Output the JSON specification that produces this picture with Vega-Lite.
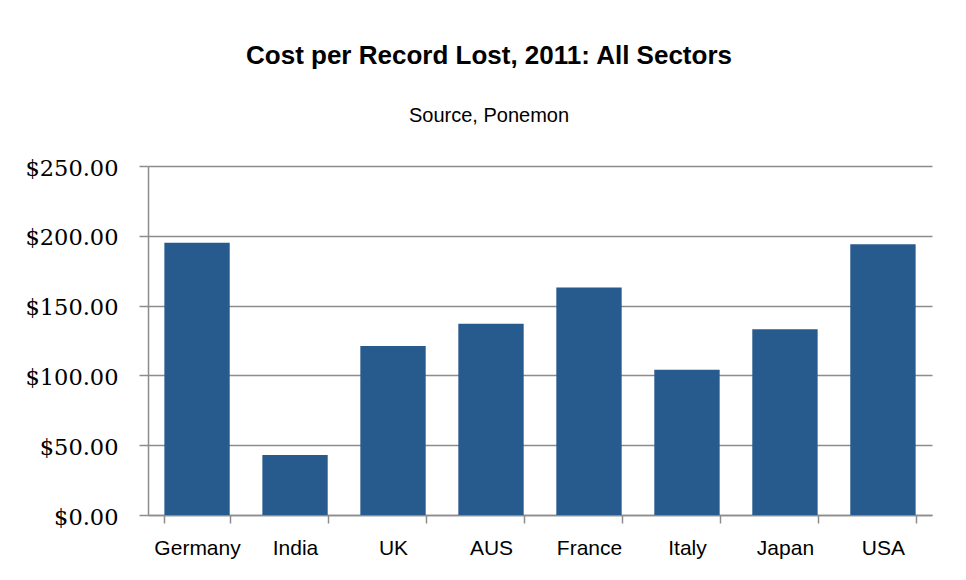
{
  "$schema": "https://vega.github.io/schema/vega-lite/v6.json",
  "autosize": {"type": "none"},
  "width": 784,
  "height": 349,
  "padding": {"left": 148, "top": 166, "right": 34, "bottom": 65},
  "background": "white",
  "title": {
    "text": "Cost per Record Lost, 2011: All Sectors",
    "subtitle": "Source, Ponemon",
    "anchor": "middle",
    "frame": "group",
    "dx": -51,
    "offset": 31,
    "font": "Liberation Sans",
    "fontSize": 26,
    "fontWeight": "bold",
    "color": "#000000",
    "subtitleFont": "Liberation Sans",
    "subtitleFontSize": 20,
    "subtitleColor": "#000000",
    "subtitlePadding": 37
  },
  "data": {
    "values": [
      {"country": "Germany", "cost": 195},
      {"country": "India", "cost": 43},
      {"country": "UK", "cost": 121},
      {"country": "AUS", "cost": 137},
      {"country": "France", "cost": 163},
      {"country": "Italy", "cost": 104},
      {"country": "Japan", "cost": 133},
      {"country": "USA", "cost": 194}
    ]
  },
  "mark": {"type": "bar", "color": "#275b8e"},
  "encoding": {
    "x": {
      "field": "country",
      "type": "nominal",
      "sort": null,
      "scale": {"paddingInner": 0.333, "paddingOuter": 0.167},
      "axis": {
        "title": null,
        "labelAngle": 0,
        "labelFont": "Liberation Sans",
        "labelFontSize": 21,
        "labelColor": "#000000",
        "labelPadding": 14,
        "tickBand": "extent",
        "tickSize": 8,
        "tickColor": "#8c8c8c",
        "tickWidth": 1.5,
        "domainColor": "#8c8c8c",
        "domainWidth": 1.5,
        "grid": false
      }
    },
    "y": {
      "field": "cost",
      "type": "quantitative",
      "scale": {"domain": [0, 250], "nice": false},
      "axis": {
        "title": null,
        "values": [0, 50, 100, 150, 200, 250],
        "format": "$,.2f",
        "labelFont": "DejaVu Serif",
        "labelFontSize": 22.5,
        "labelColor": "#000000",
        "labelPadding": 21,
        "labelOffset": 2,
        "tickSize": 9,
        "tickColor": "#8c8c8c",
        "tickWidth": 1.5,
        "domainColor": "#8c8c8c",
        "domainWidth": 1.5,
        "grid": true,
        "gridColor": "#8c8c8c",
        "gridWidth": 1.5
      }
    }
  },
  "config": {"view": {"stroke": null}}
}
